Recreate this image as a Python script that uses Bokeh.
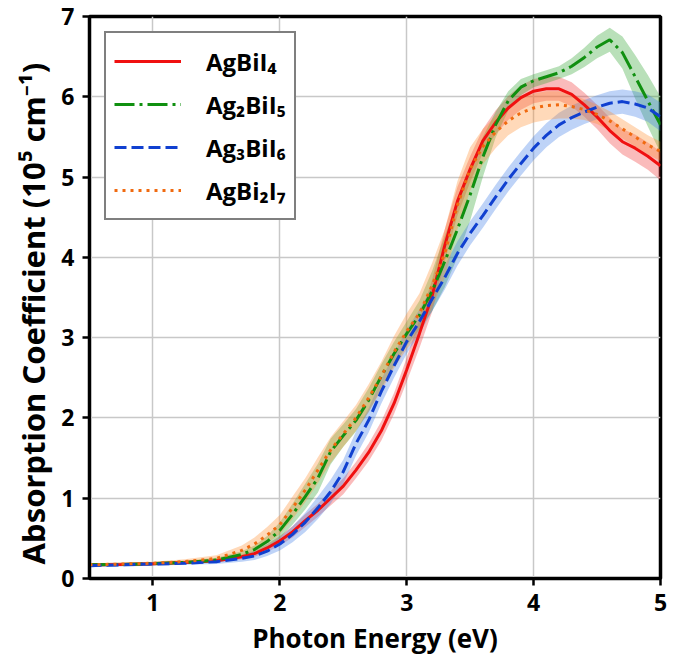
from bokeh.plotting import figure
from bokeh.models import Legend, LegendItem, FixedTicker
from bokeh.embed import file_html
from bokeh.resources import INLINE

energy = [0.5, 0.75, 1.0, 1.25, 1.5, 1.7, 1.8, 1.9, 2.0, 2.1, 2.2, 2.3, 2.4, 2.5, 2.6, 2.7,
          2.8, 2.9, 3.0, 3.1, 3.2, 3.3, 3.4, 3.5, 3.6, 3.7, 3.8, 3.9, 4.0, 4.1, 4.2, 4.3,
          4.4, 4.5, 4.6, 4.7, 4.8, 4.9, 5.0]

agbii4 = [0.17, 0.175, 0.185, 0.2, 0.22, 0.27, 0.31, 0.38, 0.47, 0.58, 0.72, 0.85, 1.0, 1.15,
          1.35, 1.57, 1.84, 2.18, 2.6, 3.05, 3.52, 4.15, 4.7, 5.1, 5.45, 5.68, 5.86, 5.99, 6.07,
          6.1, 6.1, 6.03, 5.9, 5.75, 5.58, 5.44, 5.36, 5.26, 5.14]
agbii4_sd = [0.02, 0.02, 0.02, 0.02, 0.02, 0.03, 0.04, 0.05, 0.06, 0.07, 0.08, 0.08, 0.09, 0.1,
             0.1, 0.11, 0.12, 0.13, 0.15, 0.18, 0.2, 0.2, 0.18, 0.16, 0.15, 0.15, 0.15, 0.15,
             0.15, 0.15, 0.15, 0.15, 0.15, 0.15, 0.16, 0.16, 0.17, 0.17, 0.18]

ag2bii5 = [0.17, 0.175, 0.185, 0.2, 0.23, 0.3, 0.36, 0.46, 0.6, 0.8, 1.02, 1.25, 1.58, 1.78,
           1.97, 2.22, 2.52, 2.8, 3.05, 3.28, 3.58, 3.95, 4.35, 4.78, 5.25, 5.65, 5.95, 6.12,
           6.2, 6.25, 6.3, 6.38, 6.49, 6.62, 6.71, 6.55, 6.25, 5.95, 5.65]
ag2bii5_sd = [0.02, 0.02, 0.02, 0.02, 0.03, 0.04, 0.05, 0.07, 0.1, 0.13, 0.16, 0.18, 0.16, 0.14,
              0.14, 0.15, 0.15, 0.15, 0.15, 0.18, 0.25, 0.32, 0.35, 0.32, 0.25, 0.16, 0.12, 0.1,
              0.08, 0.08, 0.08, 0.1, 0.12, 0.14, 0.15, 0.2, 0.27, 0.32, 0.35]

ag3bii6 = [0.16, 0.17, 0.18, 0.19, 0.21, 0.25, 0.28, 0.34, 0.43, 0.55, 0.7, 0.88, 1.08, 1.33,
           1.68, 1.97, 2.33, 2.65, 2.95, 3.2, 3.48, 3.75, 4.05, 4.3, 4.52, 4.75, 4.97, 5.17,
           5.36, 5.52, 5.65, 5.74, 5.81, 5.87, 5.92, 5.94, 5.91, 5.86, 5.75]
ag3bii6_sd = [0.02, 0.02, 0.02, 0.02, 0.03, 0.04, 0.05, 0.06, 0.08, 0.1, 0.12, 0.14, 0.15, 0.15,
              0.15, 0.15, 0.15, 0.15, 0.15, 0.15, 0.15, 0.15, 0.15, 0.15, 0.15, 0.15, 0.15,
              0.15, 0.15, 0.15, 0.15, 0.15, 0.15, 0.15, 0.15, 0.15, 0.16, 0.17, 0.18]

agbi2i7 = [0.17, 0.18, 0.19, 0.21, 0.25, 0.35, 0.43, 0.54, 0.67, 0.88, 1.1, 1.35, 1.6, 1.8,
           2.0, 2.25, 2.52, 2.82, 3.08, 3.3, 3.65, 4.05, 4.65, 5.1, 5.38, 5.56, 5.7, 5.8, 5.86,
           5.89, 5.9, 5.88, 5.84, 5.78, 5.7, 5.6, 5.5, 5.4, 5.32]
agbi2i7_sd = [0.02, 0.02, 0.02, 0.03, 0.04, 0.06, 0.08, 0.1, 0.12, 0.14, 0.15, 0.16, 0.16, 0.16,
              0.16, 0.17, 0.18, 0.2, 0.22, 0.25, 0.28, 0.3, 0.3, 0.27, 0.22, 0.2, 0.18, 0.18,
              0.18, 0.18, 0.17, 0.15, 0.13, 0.12, 0.12, 0.12, 0.12, 0.12, 0.12]

labels = ["AgBiI\u2084", "Ag\u2082BiI\u2085", "Ag\u2083BiI\u2086", "AgBi\u2082I\u2087"]
line_colors = ["#f01010", "#109010", "#1040d0", "#f06a10"]
band_colors = ["#f03030", "#2ca02c", "#3b78e7", "#ff8c2a"]
dashes = ["solid", "20 5 3 5", "12 5", "3 5"]

FONT = "Open Sans"

p = figure(width=678, height=658, x_range=(0.5, 5.0), y_range=(0, 7),
           output_backend="svg", toolbar_location=None,
           min_border_left=89, min_border_right=18, min_border_top=16, min_border_bottom=80)

series = [(agbii4, agbii4_sd), (ag2bii5, ag2bii5_sd), (ag3bii6, ag3bii6_sd), (agbi2i7, agbi2i7_sd)]

for (m, s), bc in zip(series, band_colors):
    lo = [a - b for a, b in zip(m, s)]
    hi = [a + b for a, b in zip(m, s)]
    p.varea(x=energy, y1=lo, y2=hi, fill_color=bc, fill_alpha=0.33)

items = []
for (m, s), lc, d, lab in zip(series, line_colors, dashes, labels):
    r = p.line(energy, m, line_color=lc, line_width=3, line_dash=d)
    items.append(LegendItem(label=lab, renderers=[r]))

legend = Legend(items=items, location="top_left")
legend.margin = 15
legend.padding = 8
legend.spacing = 3
legend.glyph_width = 67
legend.glyph_height = 40
legend.label_height = 40
legend.label_standoff = 25
legend.label_text_font = FONT
legend.label_text_font_style = "bold"
legend.label_text_font_size = "24px"
legend.label_text_color = "black"
legend.border_line_color = "black"
legend.border_line_width = 2.5
legend.background_fill_alpha = 1.0
p.add_layout(legend)

p.xaxis.ticker = FixedTicker(ticks=[1, 2, 3, 4, 5])
p.yaxis.ticker = FixedTicker(ticks=[0, 1, 2, 3, 4, 5, 6, 7])
p.xaxis.axis_label = "Photon Energy (eV)"
p.yaxis.axis_label = "Absorption Coefficient (10\u2075 cm\u207b\u00b9)\u00a0\u00a0\u00a0\u00a0"

for ax in (p.xaxis[0], p.yaxis[0]):
    ax.axis_line_width = 3
    ax.axis_line_color = "black"
    ax.major_tick_line_width = 2.5
    ax.major_tick_line_color = "black"
    ax.major_tick_out = 7
    ax.major_tick_in = 0
    ax.minor_tick_line_color = None
    ax.major_label_text_font = FONT
    ax.major_label_text_font_style = "bold"
    ax.major_label_text_font_size = "23px"
    ax.major_label_text_color = "black"
    ax.axis_label_text_font_style = "bold"
    ax.axis_label_text_color = "black"

p.xaxis.axis_label_text_font = FONT
p.yaxis.axis_label_text_font = "Noto Sans"
p.xaxis.axis_label_text_font_size = "26px"
p.yaxis.axis_label_text_font_size = "31px"
p.xaxis.major_label_standoff = 8
p.yaxis.major_label_standoff = 8
p.xaxis.axis_label_standoff = 6
p.yaxis.axis_label_standoff = 4

p.xgrid.grid_line_color = "#c8c8c8"
p.ygrid.grid_line_color = "#c8c8c8"
p.xgrid.grid_line_width = 1.5
p.ygrid.grid_line_width = 1.5

p.outline_line_color = "black"
p.outline_line_width = 3.5
p.outline_line_alpha = 1.0

open("out.html", "w").write(file_html(p, INLINE))
